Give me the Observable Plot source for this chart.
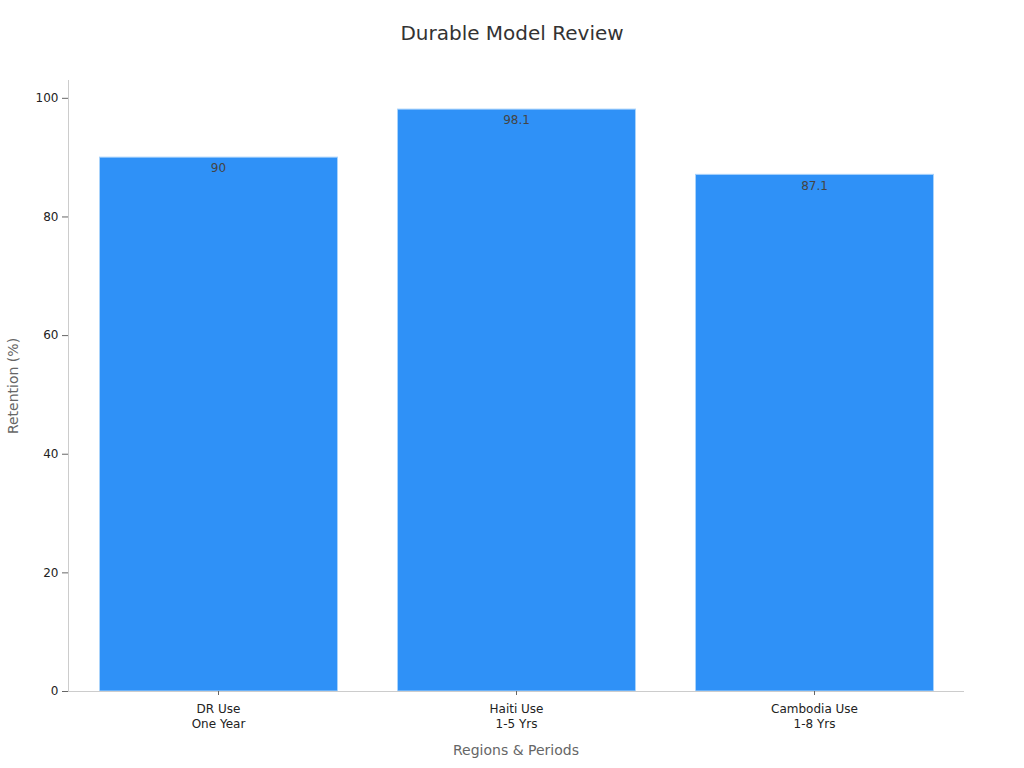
<!DOCTYPE html>
<html><head><meta charset="utf-8">
<script src="https://cdn.jsdelivr.net/npm/d3@7"></script>
<script src="https://cdn.jsdelivr.net/npm/@observablehq/plot@0.6"></script>
<style>
body{margin:0;background:#fff;font-family:"DejaVu Sans",sans-serif;}
#title{height:67px;line-height:66px;text-align:center;font-size:20px;color:#333;}
</style></head>
<body>
<div id="title">Durable Model Review</div>
<div id="chart"></div>
<script>
const regions = ["DR Use", "Haiti Use", "Cambodia Use"];
const periods = ["One Year", "1-5 Yrs", "1-8 Yrs"];
const retention = [90, 98.1, 87.1];
const yTicks = [0, 20, 40, 60, 80, 100];

const data = regions.map((r, i) => ({label: r + "\n" + periods[i], value: retention[i]}));
const labels = data.map(d => d.label);

const chart = Plot.plot({
  width: 1024,
  height: 701,
  marginTop: 13,
  marginBottom: 77,
  marginLeft: 68,
  marginRight: 61,
  style: {fontFamily: "DejaVu Sans, sans-serif", fontSize: "12px", color: "#333"},
  x: {domain: labels, paddingInner: 0.2, paddingOuter: 0.1, label: null},
  y: {domain: [0, 98.1 * 1.05], label: null},
  marks: [
    Plot.barY(data, {x: "label", y: "value", fill: "#2f91f7", stroke: "#a9d3fb", strokeWidth: 1, dx: 1.5}),
    Plot.text(data, {x: "label", y: "value", text: d => String(d.value), dy: 11, dx: 1, fill: "#444", fontSize: 12}),
    Plot.frame({anchor: "left", stroke: "#ccc"}),
    Plot.frame({anchor: "bottom", stroke: "#ccc"}),
    Plot.axisY({ticks: yTicks, tickSize: 6, tickPadding: 4, stroke: "#666", fill: "#222", label: null, fontSize: 12}),
    Plot.axisX({tickSize: 4, tickPadding: 6, stroke: "#666", fill: "#222", label: null, fontSize: 12, lineHeight: 1.3, dx: 1}),
    Plot.text(["Regions & Periods"], {frameAnchor: "bottom", dy: 63, fill: "#666", fontSize: 14}),
    Plot.text(["Retention (%)"], {frameAnchor: "left", textAnchor: "middle", dx: -55, rotate: -90, fill: "#666", fontSize: 14})
  ]
});
document.getElementById("chart").appendChild(chart);
</script>
</body></html>
